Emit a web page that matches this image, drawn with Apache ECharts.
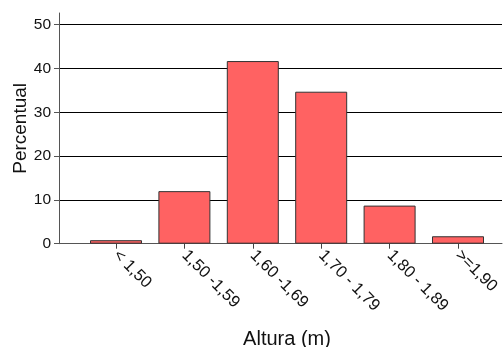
<!DOCTYPE html>
<html>
<head>
<meta charset="utf-8">
<script src="https://cdn.jsdelivr.net/npm/echarts@6/dist/echarts.min.js"></script>
<style>
  html, body { margin: 0; padding: 0; background: #fff; }
  #chart { width: 503px; height: 347px; }
</style>
</head>
<body>
<div id="chart"></div>
<script>
// Height classes and the share of people in each one (%)
const categories = ['< 1,50', '1,50 -1,59', '1,60 -1,69', '1,70 - 1,79', '1,80 - 1,89', '>=1,90'];
const percentages = [0.8, 12.0, 41.7, 34.7, 8.7, 1.7];
const yTicks = [0, 10, 20, 30, 40, 50];

const FONT = '"Liberation Sans", Arial, sans-serif';
const yMax = yTicks[yTicks.length - 1];
const yStep = yTicks[1] - yTicks[0];

const chart = echarts.init(document.getElementById('chart'), null, { renderer: 'canvas' });

// Fixed grid boxes: labels may reach the canvas edge without shrinking the plot
const gridBox = (left, right, top) => ({
  left, right, top, bottom: 103.3,
  containLabel: false, outerBoundsMode: 'none'
});

chart.setOption({
  animation: false,
  backgroundColor: '#fff',
  grid: [
    // frame: gridlines, y labels and the baseline
    gridBox(59, 1, 24.7),
    // y axis line running a little above the top gridline, with its name
    gridBox(59, 1, 13),
    // bars and category labels
    gridBox(81.8, 10.8, 24.7)
  ],
  xAxis: [
    {
      gridIndex: 0, type: 'value', min: 0, max: 1,
      axisLine: { show: true, lineStyle: { color: '#555', width: 1 } },
      axisTick: { show: false }, axisLabel: { show: false }, splitLine: { show: false }
    },
    {
      gridIndex: 1, type: 'value', min: 0, max: 1, show: false
    },
    {
      gridIndex: 2, type: 'category', data: categories,
      boundaryGap: true,
      axisLine: { show: false },
      axisTick: { show: true, alignWithLabel: true, length: 5, lineStyle: { color: '#444' } },
      axisLabel: {
        rotate: -45, margin: 9, interval: 0,
        color: '#111', fontFamily: FONT, fontSize: 16.5
      },
      name: 'Altura (m)', nameLocation: 'middle', nameGap: 86,
      nameTextStyle: { color: '#111', fontFamily: FONT, fontSize: 20 }
    }
  ],
  yAxis: [
    {
      gridIndex: 0, type: 'value', min: 0, max: yMax, interval: yStep,
      axisLine: { show: false },
      axisTick: { show: true, length: 5, lineStyle: { color: '#555' } },
      axisLabel: { margin: 8, color: '#111', fontFamily: FONT, fontSize: 15.5 },
      splitLine: { show: true, showMinLine: false, lineStyle: { color: '#000', width: 1 } }
    },
    {
      gridIndex: 1, type: 'value', min: 0, max: yMax * (243.7 - 13) / (243.7 - 24.7),
      axisLine: { show: true, lineStyle: { color: '#555', width: 1 } },
      axisTick: { show: false }, axisLabel: { show: false }, splitLine: { show: false },
      name: 'Percentual', nameLocation: 'middle', nameGap: 29,
      nameTextStyle: { color: '#111', fontFamily: FONT, fontSize: 19 }
    },
    {
      gridIndex: 2, type: 'value', min: 0, max: yMax, show: false
    }
  ],
  series: [{
    type: 'bar',
    xAxisIndex: 2, yAxisIndex: 2,
    data: percentages,
    barWidth: 52,
    itemStyle: { color: '#ff6262', borderColor: '#333', borderWidth: 1 }
  }]
});
</script>
</body>
</html>
